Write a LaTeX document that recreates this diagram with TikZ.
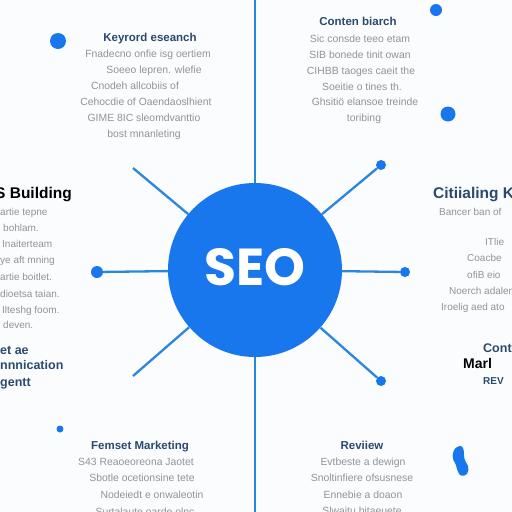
\documentclass[tikz,border=0pt]{standalone}
\usepackage{fontspec}
\setmainfont{Liberation Sans}
\newfontfamily\seofont{Poppins}
\definecolor{seoblue}{HTML}{1877EC}
\definecolor{lineblue}{HTML}{2A88DC}
\definecolor{navy}{HTML}{2C4A6E}
\definecolor{bodygray}{HTML}{8E949C}
\definecolor{bg}{HTML}{FBFCFD}
\tikzset{
  dotnode/.style={circle,fill=seoblue,inner sep=0pt,minimum size=#1},
  conn/.style={draw=lineblue,line width=2.3pt},
  ttl/.style={text=navy,font=\fontsize{11.5}{14}\selectfont\bfseries,inner sep=0pt,anchor=base},
  bigttl/.style={font=\fontsize{15.5}{18}\selectfont\bfseries,inner sep=0pt,anchor=base west},
  sidettl/.style={text=navy,font=\fontsize{12.5}{15}\selectfont\bfseries,inner sep=0pt,anchor=base west},
  body/.style={text=bodygray,font=\fontsize{10.4}{12}\selectfont,inner sep=0pt,anchor=base},
  bodyw/.style={body,font=\fontsize{10}{12}\selectfont,anchor=base west},
}
\begin{document}
\begin{tikzpicture}[x=1pt,y=-1pt]
\fill[bg] (0,0) rectangle (512,512);
\useasboundingbox (0,0) rectangle (512,512);

% central node
\node[circle,fill=seoblue,minimum size=174pt,inner sep=0pt] (seo) at (255,270) {};
\coordinate (top) at (255,0);
\coordinate (bot) at (255,512);
\coordinate (ul) at (133,168);
\coordinate (ll) at (133,376);

% dots
\node[dotnode=12pt] (dl) at (97,272) {};
\node[dotnode=10pt] (dr) at (405,272) {};
\node[dotnode=10pt] (dur) at (381,165) {};
\node[dotnode=10pt] (dlr) at (381,381) {};
\node[dotnode=16pt] (d1) at (58,41) {};
\node[dotnode=12pt] (d2) at (436,10) {};
\node[dotnode=15pt] (d3) at (448,114) {};
\node[dotnode=7pt] (d4) at (60,429) {};

% droplet
\fill[seoblue] (460,446) .. controls (452,447) and (451,458) .. (455,463)
  .. controls (457,466) and (456,470) .. (460,475)
  .. controls (466,478) and (470,472) .. (468,466)
  .. controls (466,462) and (464,460) .. (464,455)
  .. controls (464,449) and (463,446) .. (460,446) -- cycle;

% connectors
\draw[conn] (top) -- (seo);
\draw[conn] (seo) -- (bot);
\draw[conn] (dl) -- (seo);
\draw[conn] (seo) -- (dr);
\draw[conn] (ul) -- (seo);
\draw[conn] (ll) -- (seo);
\draw[conn] (seo) -- (dur);
\draw[conn] (seo) -- (dlr);
\node[text=white,font=\seofont\bfseries\fontsize{52}{56}\selectfont,inner sep=0pt] (seotext) at (255,267) {SEO};

% top-left block
\node[ttl] (kwt) at (150,41.5) {Keyrord eseanch};
\node[body] (kw1) at (148,57.5) {Fnadecno onfie isg oertiem};
\node[body] (kw2) at (154,73.5) {Soeeo lepren. wlefie};
\node[body] (kw3) at (135,89.5) {Cnodeh allcobiis of};
\node[body] (kw4) at (146,105.5) {Cehocdie of Oaendaoslhient};
\node[body] (kw5) at (144,121.5) {GIME 8IC sleomdvanttio};
\node[body] (kw6) at (144,137.5) {bost mnanleting};

% top-right block
\node[ttl] (cbt) at (358,25.5) {Conten biarch};
\node[body] (cb1) at (360,42.5) {Sic consde teeo etam};
\node[body] (cb2) at (360,58.5) {SIB bonede tinit owan};
\node[body] (cb3) at (361,74.5) {CIHBB taoges caeit the};
\node[body] (cb4) at (362,90.5) {Soeitie o tines th.};
\node[body] (cb5) at (365,105.5) {Ghsitiö elansoe treinde};
\node[body] (cb6) at (364,121.5) {toribing};

% left block
\node[bigttl,text=black] (lbt) at (-5,198.5) {S Building};
\node[bodyw] (lb1) at (0,215.5) {artie tepne};
\node[bodyw] (lb2) at (3,231.5) {bohlam.};
\node[bodyw] (lb3) at (2,247.5) {Inaiterteam};
\node[bodyw] (lb4) at (0,263.5) {ye aft mning};
\node[bodyw] (lb5) at (0,280.5) {artie boitlet.};
\node[bodyw] (lb6) at (0,297.5) {dioetsa taian.};
\node[bodyw] (lb7) at (2,313.5) {Ilteshg foom.};
\node[bodyw] (lb8) at (3,328.5) {deven.};

% right block
\node[bigttl,text=navy] (rbt) at (433,198.5) {Citiialing K};
\node[bodyw] (rb1) at (439,215.5) {Bancer ban of};
\node[bodyw] (rb2) at (485,245.5) {ITlie};
\node[bodyw] (rb3) at (467,261.5) {Coacbe};
\node[bodyw] (rb4) at (467,278.5) {ofiB eio};
\node[bodyw] (rb5) at (449,294.5) {Noerch adalen};
\node[bodyw] (rb6) at (441,310.5) {Iroelig aed ato};

% left fragment
\node[sidettl] (lf1) at (0,354.5) {et ae};
\node[sidettl] (lf2) at (0,369.5) {nnnication};
\node[sidettl] (lf3) at (0,386) {gentt};

% right fragment
\node[sidettl] (rf1) at (483,352) {Cont};
\node[sidettl,text=black,font=\fontsize{14}{16}\selectfont\bfseries] (rf2) at (463,368.5) {Marl};
\node[sidettl,font=\fontsize{10}{12}\selectfont\bfseries] (rf3) at (483,384) {REV};

% bottom-left block
\node[ttl] (fmt) at (140,449.5) {Femset Marketing};
\node[body] (fm1) at (136,465.5) {S43 Reaoeoreona Jaotet};
\node[body] (fm2) at (142,481.5) {Sbotle ocetionsine tete};
\node[body] (fm3) at (152,498.5) {Nodeiedt e onwaleotin};
\node[body] (fm4) at (145,515) {Surtalaute oarde olnc};

% bottom-right block
\node[ttl] (rvt) at (362,449.5) {Reviiew};
\node[body] (rv1) at (363,465.5) {Evtbeste a dewign};
\node[body] (rv2) at (362,481.5) {Snoltinfiere ofsusnese};
\node[body] (rv3) at (363,498.5) {Ennebie a doaon};
\node[body] (rv4) at (362,514.5) {Slwaitu bitaeuete};
\end{tikzpicture}
\end{document}
